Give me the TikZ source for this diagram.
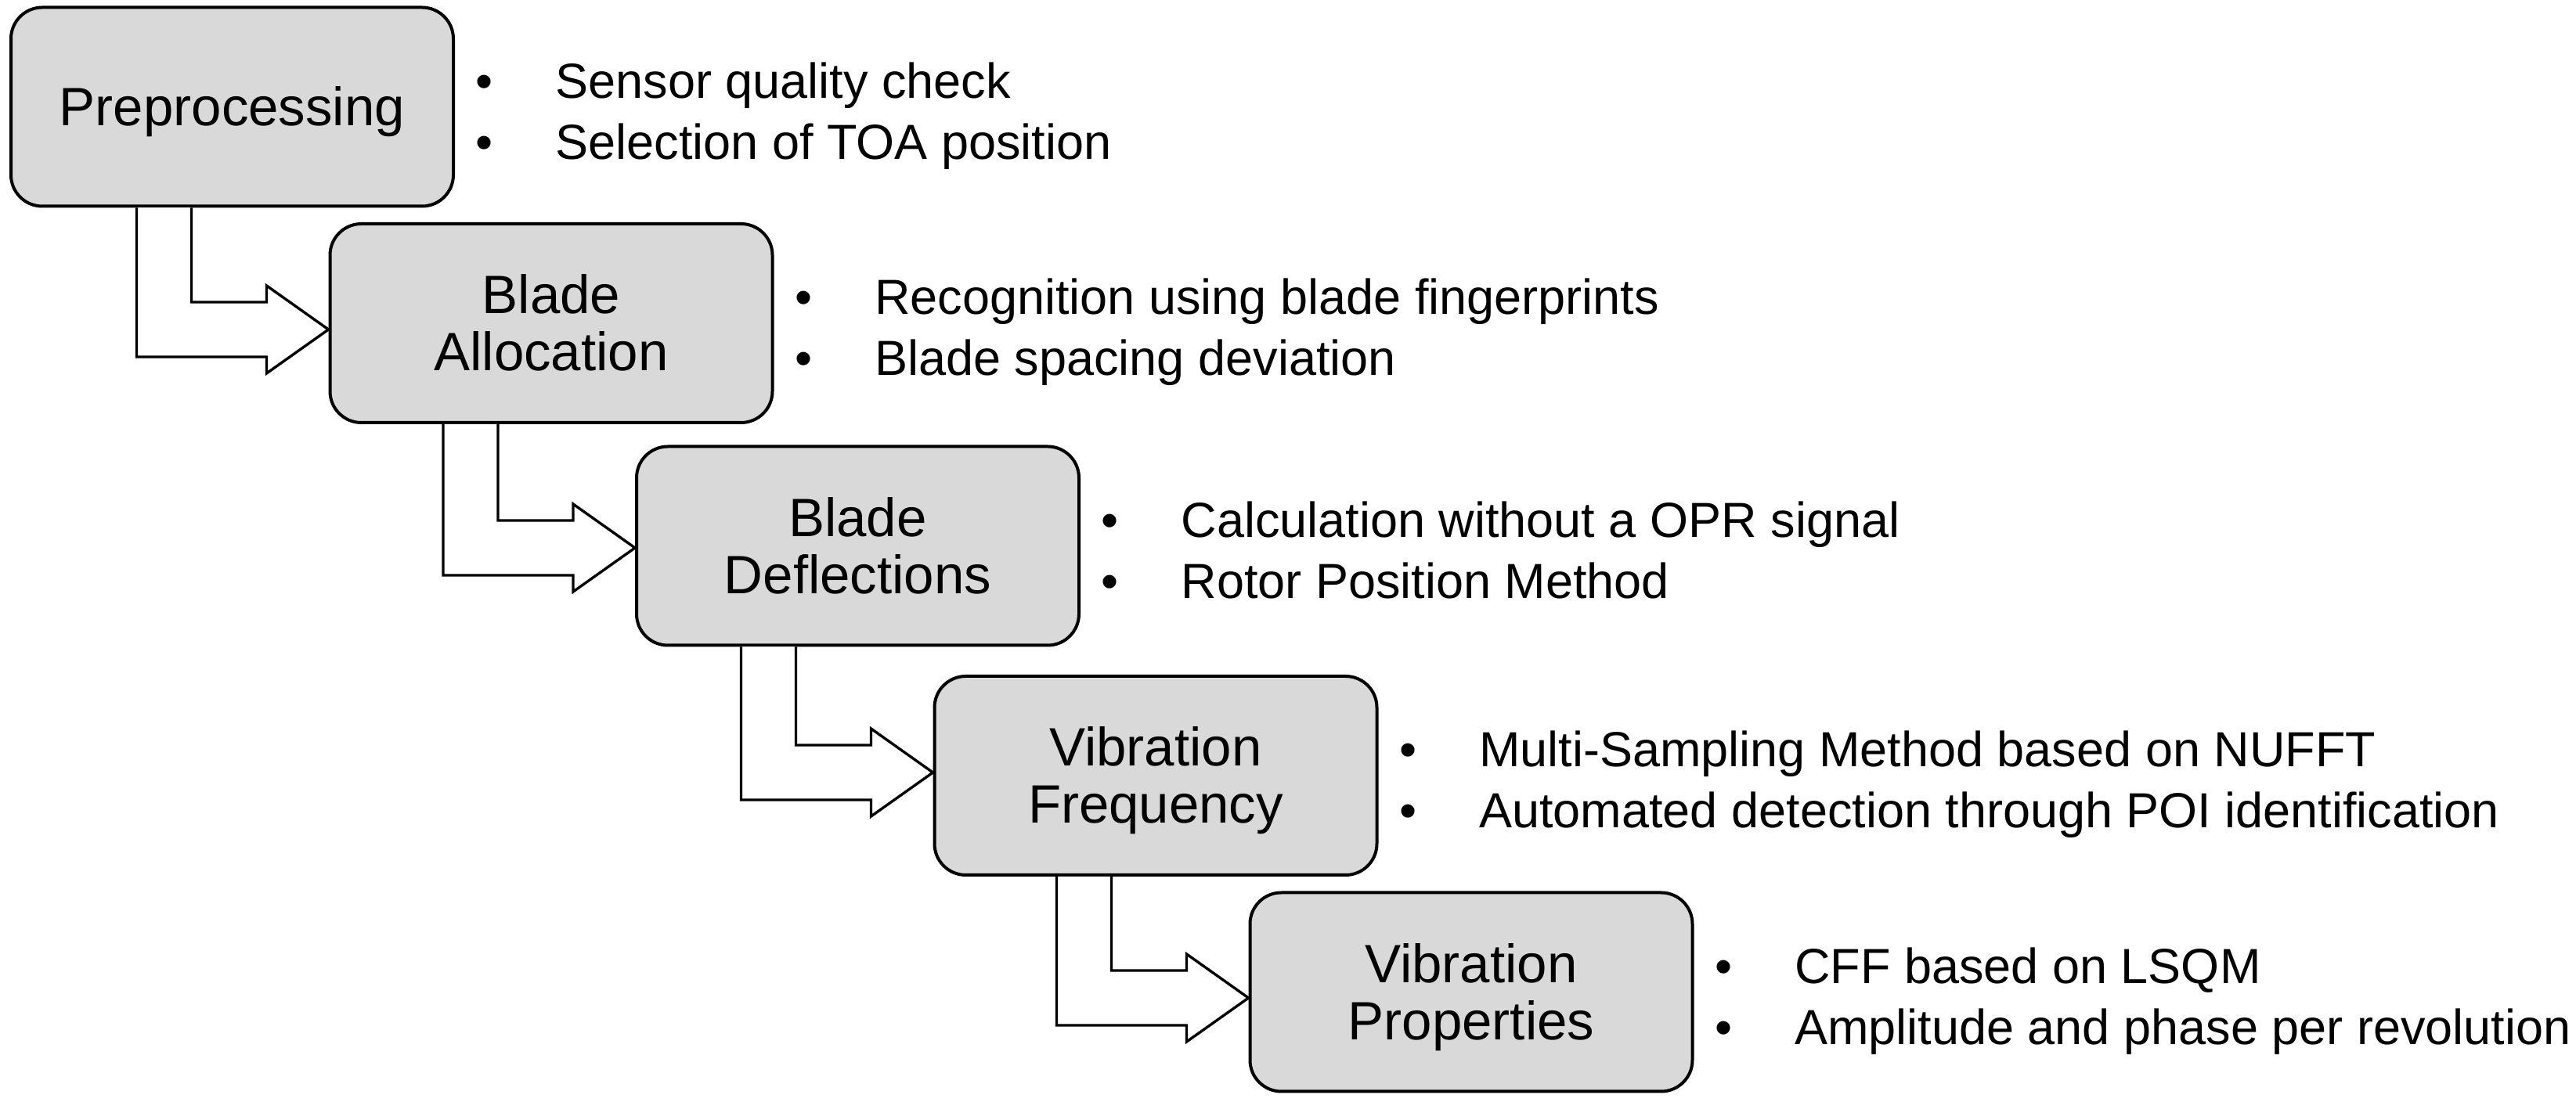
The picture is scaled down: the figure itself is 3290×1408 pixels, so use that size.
\documentclass[tikz,border=0pt]{standalone}
\usepackage{fontspec}
\setmainfont{Liberation Sans}
\usetikzlibrary{calc}
\definecolor{boxgray}{RGB}{217,217,217}
\tikzset{
  stage/.style={draw=black, line width=1pt, fill=boxgray, rounded corners=10pt,
    minimum width=141.25pt, minimum height=63.5pt, inner sep=0pt},
  stagetxt/.style={inner sep=0pt, anchor=base, font=\fontsize{17.25pt}{18.25pt}\selectfont},
  bul/.style={inner sep=0pt, anchor=base, font=\fontsize{15.75pt}{19pt}\selectfont},
  bultxt/.style={inner sep=0pt, anchor=base west, font=\fontsize{15.75pt}{19pt}\selectfont},
  bentarrow/.style={draw=black, line width=0.85pt, fill=white, line join=miter},
}
\newcommand\bentarr[3]{%
  \coordinate (#2tip) at ($(#2.west)+(0,#3)$);
  \draw[bentarrow] let \p1=(#2tip), \p2=(#1.south) in
    (\x1-61.25pt,\y2) -- (\x1-61.25pt,\y1-8.75pt) -- (\x1-19.75pt,\y1-8.75pt)
    -- (\x1-19.75pt,\y1-14pt) -- (#2tip) -- (\x1-19.75pt,\y1+14pt)
    -- (\x1-19.75pt,\y1+8.75pt) -- (\x1-43.75pt,\y1+8.75pt) -- (\x1-43.75pt,\y2);
}
\newcommand\bulpair[3]{%
  \node[bul] (#1ba) at ($(#1.east)+(38,-11)$) {•};
  \node[bul] (#1bb) at ($(#1.east)+(38,67)$) {•};
  \node[bultxt] (#1ta) at ($(#1.east)+(128,-11)$) {#2};
  \node[bultxt] (#1tb) at ($(#1.east)+(128,67)$) {#3};
}
\begin{document}
\begin{tikzpicture}[x=0.25pt,y=-0.25pt]
\useasboundingbox (0,0) rectangle (3290,1408);
\fill[white] (0,0) rectangle (3290,1408);

% stage boxes
\node[stage] (b1) at (296.5,136.5) {};
\node[stage] (b2) at (704,413) {};
\node[stage] (b3) at (1095.5,697.5) {};
\node[stage] (b4) at (1476,991) {};
\node[stage] (b5) at (1879,1267.5) {};

% box labels
\node[stagetxt] (l1) at ($(b1.center)+(0,24)$) {Preprocessing};
\node[stagetxt] (l2a) at ($(b2.center)+(0,-12)$) {Blade};
\node[stagetxt] (l2b) at ($(b2.center)+(0,61)$) {Allocation};
\node[stagetxt] (l3a) at ($(b3.center)+(0,-12)$) {Blade};
\node[stagetxt] (l3b) at ($(b3.center)+(0,61)$) {Deflections};
\node[stagetxt] (l4a) at ($(b4.center)+(0,-12)$) {Vibration};
\node[stagetxt] (l4b) at ($(b4.center)+(0,61)$) {Frequency};
\node[stagetxt] (l5a) at ($(b5.center)+(0,-12)$) {Vibration};
\node[stagetxt] (l5b) at ($(b5.center)+(0,61)$) {Properties};

% bent block arrows
\bentarr{b1}{b2}{8}
\bentarr{b2}{b3}{2.5}
\bentarr{b3}{b4}{-4}
\bentarr{b4}{b5}{7.5}

% bullet lists
\bulpair{b1}{Sensor quality check}{Selection of TOA position}
\bulpair{b2}{Recognition using blade fingerprints}{Blade spacing deviation}
\bulpair{b3}{Calculation without a OPR signal}{Rotor Position Method}
\bulpair{b4}{Multi-Sampling Method based on NUFFT}{Automated detection through POI identification}
\bulpair{b5}{CFF based on LSQM}{Amplitude and phase per revolution}
\end{tikzpicture}
\end{document}
